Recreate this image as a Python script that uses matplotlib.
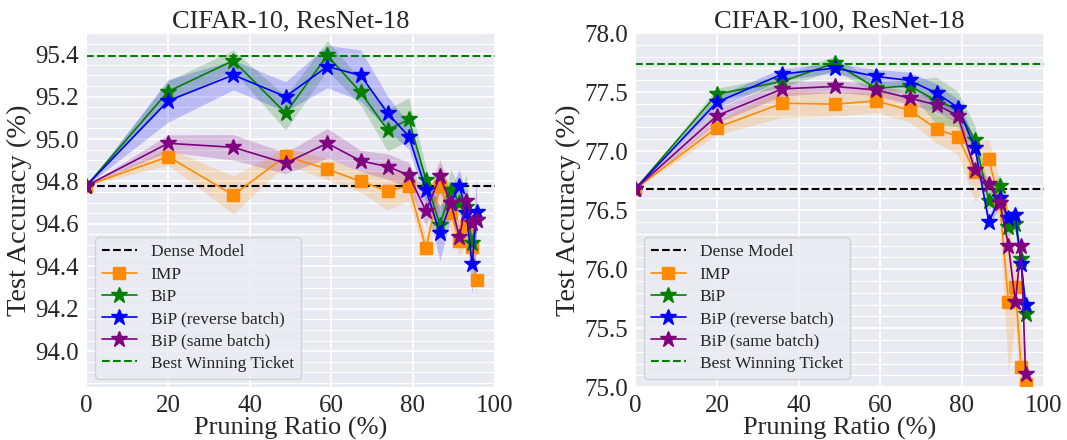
import numpy as np
import matplotlib
matplotlib.use("Agg")
import matplotlib.pyplot as plt
import seaborn as sns
from matplotlib.ticker import AutoMinorLocator, MultipleLocator, FormatStrFormatter

sns.set_style("darkgrid")
plt.rcParams['font.family'] = ['Liberation Serif', 'DejaVu Serif']

ratios = [0, 20, 36, 48.8, 59, 67.2, 73.8, 79, 83.2, 86.6, 89.3, 91.4, 93.1, 94.5, 95.6]

# CIFAR-10
c10_dense = 94.78
c10_best = 95.39
c10_imp = [94.78, 94.917, 94.736, 94.92, 94.858, 94.80, 94.755, 94.78, 94.486, 94.78, 94.65, 94.52, 94.59, 94.49, 94.334]
c10_imp_std = [0, 0.04, 0.09, 0.04, 0.05, 0.05, 0.09, 0.07, 0.05, 0.1, 0.08, 0.07, 0.08, 0.1, 0.07]
c10_bip = [94.78, 95.224, 95.37, 95.122, 95.394, 95.22, 95.043, 95.093, 94.807, 94.595, 94.76, 94.70, 94.68, 94.51, 94.62]
c10_bip_std = [0, 0.05, 0.05, 0.08, 0.07, 0.06, 0.1, 0.1, 0.06, 0.06, 0.1, 0.06, 0.15, 0.06, 0.05]
c10_rev = [94.78, 95.18, 95.302, 95.2, 95.342, 95.30, 95.122, 95.012, 94.76, 94.556, 94.70, 94.777, 94.65, 94.41, 94.655]
c10_rev_std = [0, 0.1, 0.07, 0.07, 0.1, 0.12, 0.08, 0.06, 0.06, 0.13, 0.07, 0.08, 0.08, 0.14, 0.17]
c10_same = [94.78, 94.98, 94.961, 94.886, 94.98, 94.897, 94.87, 94.83, 94.66, 94.824, 94.697, 94.537, 94.708, 94.603, 94.618]
c10_same_std = [0, 0.04, 0.06, 0.05, 0.07, 0.05, 0.06, 0.06, 0.07, 0.08, 0.06, 0.05, 0.06, 0.06, 0.06]

# CIFAR-100
c100_dense = 76.68
c100_best = 77.74
c100_imp = [76.68, 77.199, 77.405, 77.397, 77.425, 77.346, 77.187, 77.122, 76.819, 76.93, 76.556, 75.72, 75.848, 75.168, 75.026]
c100_imp_std = [0, 0.06, 0.12, 0.1, 0.1, 0.1, 0.12, 0.15, 0.25, 0.17, 0.2, 0.6, 0.3, 0.3, 0.3]
c100_bip = [76.68, 77.482, 77.59, 77.745, 77.533, 77.553, 77.425, 77.354, 77.094, 76.58, 76.705, 76.358, 76.386, 76.088, 75.621]
c100_bip_std = [0, 0.05, 0.05, 0.06, 0.05, 0.05, 0.2, 0.15, 0.12, 0.08, 0.1, 0.08, 0.06, 0.05, 0.04]
c100_rev = [76.68, 77.414, 77.652, 77.703, 77.632, 77.598, 77.49, 77.369, 77.029, 76.40, 76.6, 76.43, 76.456, 76.04, 75.70]
c100_rev_std = [0, 0.05, 0.05, 0.04, 0.06, 0.07, 0.08, 0.07, 0.06, 0.06, 0.06, 0.06, 0.06, 0.06, 0.05]
c100_same = [76.68, 77.30, 77.527, 77.547, 77.518, 77.448, 77.391, 77.30, 76.839, 76.717, 76.564, 76.20, 75.72, 76.20, 75.11]
c100_same_std = [0, 0.06, 0.06, 0.05, 0.05, 0.05, 0.06, 0.06, 0.05, 0.05, 0.05, 0.05, 0.05, 0.05, 0.05]

labels = ["IMP", "BiP", "BiP (reverse batch)", "BiP (same batch)"]
colors = ["darkorange", "green", "blue", "purple"]
markers = ["s", "*", "*", "*"]
msizes = [9, 12, 12, 12]

panels = [
    ("CIFAR-10, ResNet-18", c10_dense, c10_best,
     [(c10_imp, c10_imp_std), (c10_bip, c10_bip_std), (c10_rev, c10_rev_std), (c10_same, c10_same_std)],
     (93.83, 95.5), 0.2),
    ("CIFAR-100, ResNet-18", c100_dense, c100_best,
     [(c100_imp, c100_imp_std), (c100_bip, c100_bip_std), (c100_rev, c100_rev_std), (c100_same, c100_same_std)],
     (75.0, 78.0), 0.5),
]

fig, axes = plt.subplots(1, 2, figsize=(10.67, 4.4), dpi=100)
plt.subplots_adjust(left=0.081, right=0.978, bottom=0.12, top=0.925, wspace=0.345)

x = np.array(ratios)
for ax, (title, dense, best, series, ylim, step) in zip(axes, panels):
    ax.axhline(dense, color="black", ls="--", lw=1.5, label="Dense Model")
    for (m, s), lab, c, mk, ms in zip(series, labels, colors, markers, msizes):
        m = np.array(m)
        s = np.array(s)
        ax.plot(x, m, color=c, marker=mk, markersize=ms, lw=1.2, label=lab)
        ax.fill_between(x, m - s, m + s, color=c, alpha=0.2, lw=0)
    ax.axhline(best, color="green", ls="--", lw=1.5, label="Best Winning Ticket")
    ax.set_xlim(0, 100)
    ax.set_ylim(*ylim)
    ax.yaxis.set_major_locator(MultipleLocator(step))
    ax.yaxis.set_major_formatter(FormatStrFormatter("%.1f"))
    ax.yaxis.set_minor_locator(AutoMinorLocator())
    ax.grid(which="major", color="white", lw=1.3)
    ax.grid(which="minor", axis="y", color="white", lw=0.8)
    ax.tick_params(labelsize=18, pad=2)
    ax.set_title(title, fontsize=19, pad=4)
    ax.set_xlabel("Pruning Ratio (%)", fontsize=19, labelpad=0)
    ax.set_ylabel("Test Accuracy (%)", fontsize=20.5, labelpad=2)
    ax.legend(loc="lower left", fontsize=12.5, labelspacing=0.35, handlelength=2.0)

plt.savefig("out.png")
